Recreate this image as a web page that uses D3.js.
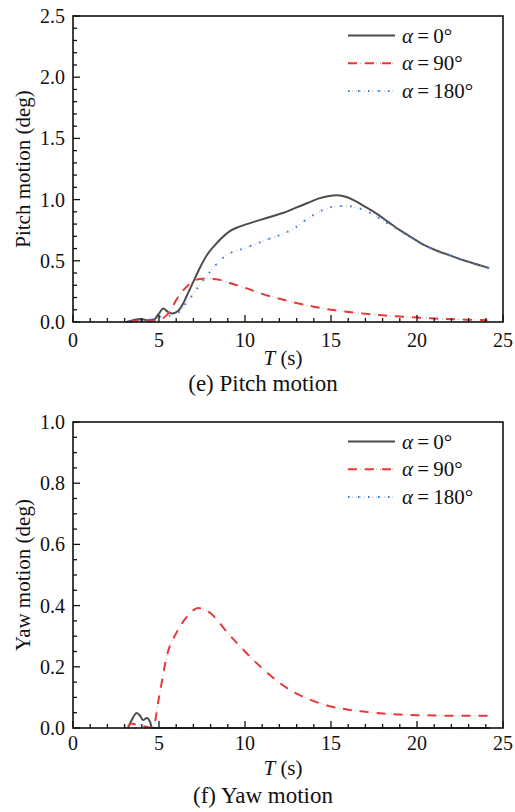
<!DOCTYPE html>
<html>
<head>
<meta charset="utf-8">
<script src="https://cdn.jsdelivr.net/npm/d3@7"></script>
<style>
    body { margin: 0; background: #fff; }
    svg text { font-family: "Liberation Serif", "Times New Roman", serif; fill: #111; }
</style>
</head>
<body>
<script>
// legend labels (angle of incidence)
var seriesNames = ["0°", "90°", "180°"];

// (e) pitch motion, [T (s), deg]
var pitch0 = [[3.1,0.0],[3.5,0.015],[3.9,0.025],[4.3,0.015],[4.7,0.02],[5.0,0.07],[5.25,0.11],[5.5,0.085],[5.75,0.07],[6.1,0.09],[6.4,0.15],[6.7,0.24],[7.0,0.33],[7.4,0.45],[7.8,0.55],[8.2,0.62],[8.6,0.68],[9.1,0.74],[9.6,0.775],[10.1,0.80],[10.8,0.83],[11.5,0.86],[12.2,0.89],[12.9,0.93],[13.6,0.97],[14.3,1.01],[14.9,1.03],[15.3,1.035],[15.8,1.025],[16.4,0.99],[17.0,0.94],[17.6,0.89],[18.3,0.82],[19.0,0.75],[19.7,0.69],[20.4,0.63],[21.2,0.58],[22.0,0.54],[22.8,0.5],[23.5,0.47],[24.2,0.44]];
var pitch90 = [[3.3,0],[3.8,0.01],[4.3,0.005],[4.8,0.01],[5.1,0.02],[5.4,0.05],[5.7,0.1],[6.0,0.18],[6.3,0.24],[6.7,0.3],[7.0,0.335],[7.4,0.352],[7.8,0.357],[8.2,0.352],[8.6,0.342],[9.3,0.31],[10.1,0.275],[11.0,0.23],[12.0,0.19],[13.0,0.155],[14.0,0.125],[15.0,0.1],[15.9,0.084],[17.0,0.067],[17.9,0.056],[18.8,0.046],[19.8,0.038],[20.8,0.03],[21.7,0.024],[22.9,0.019],[24.1,0.015]];
var pitch180 = [[3.3,0],[4.0,0.01],[4.5,0.02],[4.9,0.03],[5.2,0.05],[5.5,0.05],[5.8,0.06],[6.2,0.085],[6.6,0.16],[7.0,0.23],[7.4,0.31],[7.8,0.38],[8.2,0.45],[8.6,0.51],[9.1,0.56],[9.7,0.59],[10.5,0.63],[11.4,0.68],[12.2,0.72],[12.9,0.77],[13.6,0.84],[14.3,0.9],[14.9,0.935],[15.4,0.947],[16.0,0.947],[16.6,0.93],[17.3,0.89],[18.0,0.83],[18.6,0.78],[19.3,0.72],[19.8,0.68],[20.4,0.63],[21.2,0.58],[22.0,0.54],[22.8,0.5],[23.5,0.47],[24.2,0.44]];

// (f) yaw motion, [T (s), deg]
var yaw0 = [[3.2,0.0],[3.45,0.03],[3.7,0.049],[3.9,0.04],[4.07,0.026],[4.3,0.033],[4.48,0.02],[4.6,0.0],[24.2,0.0]];
var yaw90 = [[3.2,0.005],[3.4,0.015],[3.7,0.01],[4.2,0.005],[4.65,0],[5.0,0.1],[5.5,0.245],[6.0,0.31],[6.5,0.355],[7.0,0.385],[7.3,0.392],[7.6,0.388],[8.0,0.375],[8.5,0.345],[9.0,0.31],[9.5,0.28],[10,0.25],[11,0.195],[12,0.148],[13,0.112],[14,0.088],[15,0.07],[16,0.06],[17,0.053],[18,0.047],[19,0.044],[20,0.042],[21,0.041],[22,0.04],[23,0.04],[24.2,0.04]];
var yaw180 = [[3.0,0],[24.2,0]];

// axis ticks
var xTicks = [0, 5, 10, 15, 20, 25];
var pitchTicks = [0, 0.5, 1.0, 1.5, 2.0, 2.5];
var yawTicks = [0, 0.2, 0.4, 0.6, 0.8, 1.0];

var w = 515;
var h = 812;

var svg = d3.select("body")
    .append("svg")
    .attr("width", w)
    .attr("height", h);

var styles = [
    {color: "#4d4d4d", dash: null, width: 2},
    {color: "#e8383a", dash: "9,8", width: 2},
    {color: "#3c7fd8", dash: "1.6,8.4", width: 2}
];

function drawPanel (opt) {
    var x = d3.scaleLinear().domain([0, 25]).range([73, 503]);
    var y = d3.scaleLinear().domain(opt.yDomain).range([opt.bottom, opt.top]);

    var g = svg.append("g");

    // lines first, axes drawn over them
    var line = d3.line()
        .x(function (d) { return x(d[0]); })
        .y(function (d) { return y(d[1]); })
        .curve(d3.curveMonotoneX);

    opt.series.forEach(function (s, i) {
        var st = styles[i];
        if (st.dash) {
            // faint grey underlay, gives the dash-dot look of the original
            g.append("path")
                .attr("d", line(s))
                .attr("fill", "none")
                .attr("stroke", "#9a9a9a")
                .attr("stroke-width", 0.8)
                .attr("stroke-dasharray", "1,3");
        }
        g.append("path")
            .attr("d", line(s))
            .attr("fill", "none")
            .attr("stroke", st.color)
            .attr("stroke-width", st.width)
            .attr("stroke-dasharray", st.dash);
    });

    // frame
    g.append("rect")
        .attr("x", x(0))
        .attr("y", opt.top)
        .attr("width", x(25) - x(0))
        .attr("height", opt.bottom - opt.top)
        .attr("fill", "none")
        .attr("stroke", "#111")
        .attr("stroke-width", 1.6);

    // x ticks (inward)
    var xMinor = d3.range(0, 26, 1);
    g.selectAll(".xt")
        .data(xMinor).enter()
        .append("line")
        .attr("x1", function (d) { return x(d); })
        .attr("x2", function (d) { return x(d); })
        .attr("y1", opt.bottom)
        .attr("y2", function (d) { return opt.bottom - (d % 5 === 0 ? 7 : 4); })
        .attr("stroke", "#111")
        .attr("stroke-width", 1.3);

    g.selectAll(".xl")
        .data(xTicks).enter()
        .append("text")
        .attr("x", function (d) { return x(d); })
        .attr("y", opt.bottom + opt.dy[0])
        .attr("text-anchor", "middle")
        .style("font-size", "20px")
        .text(function (d) { return d; });

    // y ticks (inward)
    var yMinor = d3.range(0, opt.yDomain[1] + 1e-9, opt.minorStep);
    g.selectAll(".yt")
        .data(yMinor).enter()
        .append("line")
        .attr("x1", x(0))
        .attr("x2", function (d) {
            var k = Math.round(d / opt.minorStep);
            return x(0) + (k % opt.perMajor === 0 ? 7 : 4);
        })
        .attr("y1", function (d) { return y(d); })
        .attr("y2", function (d) { return y(d); })
        .attr("stroke", "#111")
        .attr("stroke-width", 1.3);

    g.selectAll(".yl")
        .data(opt.yTicks).enter()
        .append("text")
        .attr("x", 65)
        .attr("y", function (d) { return y(d) + 7; })
        .attr("text-anchor", "end")
        .style("font-size", "20px")
        .text(function (d) { return d.toFixed(1); });

    // axis titles
    g.append("text")
        .attr("transform", "translate(30," + ((opt.top + opt.bottom) / 2) + ") rotate(-90)")
        .attr("text-anchor", "middle")
        .style("font-size", "21px")
        .text(opt.yLabel);

    var xt = g.append("text")
        .attr("x", 283)
        .attr("y", opt.bottom + opt.dy[1])
        .attr("text-anchor", "middle")
        .style("font-size", "21px");
    xt.append("tspan").style("font-style", "italic").text("T");
    xt.append("tspan").text(" (s)");

    g.append("text")
        .attr("x", 263)
        .attr("y", opt.bottom + opt.dy[2])
        .attr("text-anchor", "middle")
        .style("font-size", "23px")
        .text(opt.caption);

    // legend
    seriesNames.forEach(function (name, i) {
        var ly = opt.top + 19.5 + i * 27.8;
        var st = styles[i];
        if (st.dash) {
            g.append("line")
                .attr("x1", 348).attr("x2", 395)
                .attr("y1", ly).attr("y2", ly)
                .attr("stroke", "#9a9a9a")
                .attr("stroke-width", 0.8)
                .attr("stroke-dasharray", "1,3");
        }
        g.append("line")
            .attr("x1", 348).attr("x2", 395)
            .attr("y1", ly).attr("y2", ly)
            .attr("stroke", st.color)
            .attr("stroke-width", st.width)
            .attr("stroke-dasharray", st.dash);
        var t = g.append("text")
            .attr("x", 402)
            .attr("y", ly + 7)
            .style("font-size", "21px");
        t.append("tspan").style("font-style", "italic").text("α");
        t.append("tspan").text("\u2009=\u2009" + name);
    });
}

drawPanel({
    top: 16, bottom: 322,
    yDomain: [0, 2.5], yTicks: pitchTicks,
    minorStep: 0.1, perMajor: 5,
    dy: [25, 43, 69],
    yLabel: "Pitch motion (deg)",
    caption: "(e) Pitch motion",
    series: [pitch0, pitch90, pitch180]
});

drawPanel({
    top: 422, bottom: 728,
    yDomain: [0, 1.0], yTicks: yawTicks,
    minorStep: 0.05, perMajor: 4,
    dy: [22, 47, 75],
    yLabel: "Yaw motion (deg)",
    caption: "(f) Yaw motion",
    series: [yaw0, yaw90, yaw180]
});
</script>
</body>
</html>
